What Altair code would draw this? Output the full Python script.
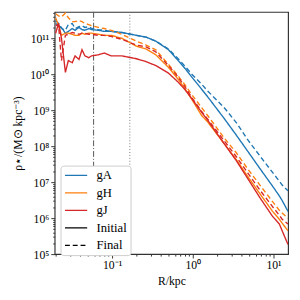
import altair as alt
import pandas as pd

# Radii (kpc) at which the profiles were read
R_kpc = [0.020, 0.0217, 0.0236, 0.0264, 0.0287, 0.0321, 0.0348, 0.0389, 0.0424, 0.0460,
         0.0514, 0.0558, 0.0678, 0.0801, 0.0973, 0.132, 0.200, 0.264, 0.348, 0.500,
         0.659, 0.802, 0.973, 1.28, 1.52, 2.43, 3.48, 4.86, 6.78, 9.73,
         11.8, 12.8, 15.1]

# log10 of stellar density (Msun / kpc^3)
log_rho_gA_initial = [11.41, 11.35, 11.30, 11.14, 11.19, 11.27, 11.22, 11.30, 11.24, 11.22,
                      11.27, 11.24, 11.22, 11.19, 11.19, 11.16, 11.08, 11.03, 10.92, 10.68,
                      10.38, 10.16, 9.92, 9.59, 9.38, 8.78, 8.30, 7.84, 7.38, 6.89,
                      6.62, 6.49, 6.19]
log_rho_gA_final = [11.49, 11.41, 11.27, 11.22, 11.38, 11.41, 11.27, 11.32, 11.35, 11.30,
                    11.32, 11.27, 11.24, 11.22, 11.19, 11.16, 11.08, 11.03, 10.92, 10.70,
                    10.43, 10.22, 10.00, 9.73, 9.54, 9.08, 8.65, 8.16, 7.73, 7.27,
                    7.03, 6.92, 6.76]
log_rho_gH_initial = [11.57, 11.35, 11.08, 11.14, 11.14, 11.11, 11.08, 11.08, 11.14, 11.11,
                      11.14, 11.14, 11.11, 11.08, 11.08, 11.00, 10.78, 10.70, 10.54, 10.19,
                      9.86, 9.59, 9.30, 8.86, 8.68, 8.08, 7.62, 7.14, 6.68, 6.19,
                      5.97, 5.86, 5.65]
log_rho_gH_final = [11.68, 11.62, 11.59, 11.70, 11.57, 11.46, 11.46, 11.49, 11.46, 11.41,
                    11.38, 11.35, 11.30, 11.27, 11.22, 11.11, 10.92, 10.81, 10.68, 10.27,
                    9.95, 9.70, 9.43, 9.08, 8.86, 8.24, 7.81, 7.35, 6.92, 6.46,
                    6.22, 6.14, 6.00]
log_rho_gJ_initial = [11.14, 11.41, 11.00, 10.05, 10.38, 10.32, 10.51, 10.41, 10.68, 10.51,
                      10.46, 10.51, 10.54, 10.59, 10.51, 10.51, 10.43, 10.35, 10.24, 10.03,
                      9.78, 9.57, 9.32, 8.95, 8.73, 8.08, 7.59, 7.08, 6.57, 6.05,
                      5.84, 5.65, 5.27]
log_rho_gJ_final = [11.35, 11.38, 10.38, 11.08, 11.11, 11.16, 11.14, 11.11, 11.14, 11.14,
                    11.11, 11.11, 11.08, 11.08, 11.05, 10.97, 10.81, 10.76, 10.62, 10.24,
                    9.92, 9.65, 9.35, 8.97, 8.76, 8.16, 7.70, 7.24, 6.78, 6.32,
                    6.08, 5.97, 5.84]

galaxies = ["gA", "gH", "gJ"]
stages = ["Initial", "Final"]
legend_keys = ["gA", "gH", "gJ", "Initial", "Final"]
colors = ["#1f77b4", "#ff7f0e", "#d62728", "black", "black"]

vline_dashdot = [0.059]
vline_dotted = [0.166]

x_major = [0.1, 1, 10]
y_major = [1e5, 1e6, 1e7, 1e8, 1e9, 1e10, 1e11]
x_minor = [k * 10.0 ** d for d in (-2, -1, 0, 1) for k in range(2, 10)]
x_minor = [v for v in x_minor if 0.0195 <= v <= 15.1]
y_minor = [k * 10.0 ** d for d in range(5, 12) for k in range(2, 10)]
y_minor = [v for v in y_minor if v <= 5.3e11]

series = {
    ("gA", "Initial"): log_rho_gA_initial, ("gA", "Final"): log_rho_gA_final,
    ("gH", "Initial"): log_rho_gH_initial, ("gH", "Final"): log_rho_gH_final,
    ("gJ", "Initial"): log_rho_gJ_initial, ("gJ", "Final"): log_rho_gJ_final,
}
rows = []
for (g, s), vals in series.items():
    for r, v in zip(R_kpc, vals):
        rows.append({"R": r, "rho": 10 ** v, "galaxy": g, "stage": s})
df = pd.DataFrame(rows)

XDOM = [0.01945, 15.17]
YDOM = [1e5, 10 ** 11.73]
FONT = "Liberation Serif"

xs = alt.Scale(type="log", domain=XDOM, nice=False)
ys = alt.Scale(type="log", domain=YDOM, nice=False)

color_scale = alt.Scale(domain=legend_keys, range=colors)
dash_scale = alt.Scale(domain=legend_keys, range=[[1, 0], [1, 0], [1, 0], [1, 0], [5, 3]])

leg = dict(orient="none", legendX=6, legendY=158, title=None,
           fillColor="white", strokeColor="#cccccc", cornerRadius=3, padding=3,
           labelFont=FONT, labelFontSize=13, labelColor="black",
           symbolType="M-1.9,0H1.9", symbolSize=144, symbolStrokeWidth=1.5,
           symbolOffset=6, labelOffset=14, rowPadding=4)

lines = alt.Chart(df).mark_line(strokeWidth=1.4, clip=True).encode(
    x=alt.X("R:Q", scale=xs,
            axis=alt.Axis(values=x_major, title="R/kpc", tickSize=4, orient="bottom",
                          labelExpr="'10' + (datum.value < 0.5 ? '⁻¹' : datum.value < 5 ? '⁰' : '¹')")),
    y=alt.Y("rho:Q", scale=ys,
            axis=alt.Axis(values=y_major, title="ρ⋆/(M⊙ kpc⁻³)", tickSize=4, orient="left",
                          labelExpr="'10' + ['⁰','¹','²','³','⁴','⁵','⁶','⁷','⁸','⁹','¹⁰','¹¹'][round(log(datum.value)/LN10)]")),
    color=alt.Color("galaxy:N", scale=color_scale, legend=alt.Legend(**leg)),
    strokeDash=alt.StrokeDash("stage:N", scale=dash_scale, legend=alt.Legend(**leg)),
    order=alt.Order("R:Q"),
)

vr1 = alt.Chart(pd.DataFrame({"R": vline_dashdot})).mark_rule(
    color="#555555", strokeWidth=1, strokeDash=[6, 2, 1, 2]).encode(
    x=alt.X("R:Q", scale=xs, axis=None))
vr2 = alt.Chart(pd.DataFrame({"R": vline_dotted})).mark_rule(
    color="#777777", strokeWidth=1, strokeDash=[1, 2]).encode(
    x=alt.X("R:Q", scale=xs, axis=None))

minor = alt.Chart(df).mark_line(opacity=0).transform_filter("false").encode(
    x=alt.X("R:Q", scale=xs, axis=alt.Axis(values=x_minor, labels=False, tickSize=2,
                                            domain=False, title=None, orient="bottom")),
    y=alt.Y("rho:Q", scale=ys, axis=alt.Axis(values=y_minor, labels=False, tickSize=2,
                                              domain=False, title=None, orient="left")),
)

chart = alt.layer(vr1, vr2, lines, minor).resolve_axis(
    x="independent", y="independent"
).properties(
    width=240, height=249,
    autosize=alt.AutoSizeParams(type="none"),
    padding={"left": 48, "top": 0, "right": 4, "bottom": 40},
).configure_view(stroke="#333333", strokeWidth=1.2).configure_axis(
    grid=False, domain=False, tickColor="#333333", tickWidth=1,
    labelFont=FONT, labelFontSize=12, labelColor="black", labelPadding=2,
    titleFont=FONT, titleFontSize=12, titleFontWeight="normal", titleColor="black",
    titlePadding=5,
)

chart.save("out.html", embed_options={"renderer": "svg", "actions": False})
